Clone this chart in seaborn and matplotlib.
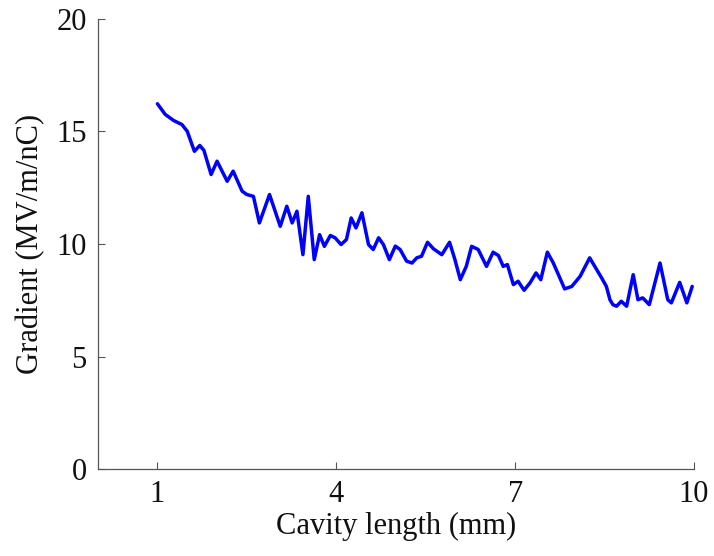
import matplotlib
matplotlib.use("Agg")
import matplotlib.pyplot as plt
import seaborn as sns
import pandas as pd

length_mm = [1.00, 1.13, 1.27, 1.41, 1.50, 1.62, 1.71, 1.78, 1.90, 2.00,
             2.17, 2.27, 2.42, 2.50, 2.61, 2.71, 2.88, 3.06, 3.17, 3.26,
             3.34, 3.44, 3.53, 3.63, 3.72, 3.80, 3.90, 3.98, 4.08, 4.17,
             4.25, 4.33, 4.43, 4.54, 4.62, 4.71, 4.79, 4.89, 4.99, 5.07,
             5.18, 5.27, 5.35, 5.43, 5.53, 5.63, 5.77, 5.90, 5.99, 6.08,
             6.18, 6.27, 6.38, 6.52, 6.63, 6.72, 6.80, 6.87, 6.97, 7.05,
             7.15, 7.25, 7.35, 7.43, 7.54, 7.64, 7.83, 7.95, 8.09, 8.25,
             8.45, 8.53, 8.59, 8.64, 8.70, 8.78, 8.87, 8.98, 9.06, 9.14,
             9.25, 9.43, 9.56, 9.62, 9.76, 9.88, 9.97]
gradient = [16.23, 15.76, 15.49, 15.31, 15.01, 14.12, 14.38, 14.16, 13.09, 13.68,
            12.79, 13.24, 12.35, 12.20, 12.12, 10.94, 12.20, 10.79, 11.68, 10.94,
            11.46, 9.53, 12.12, 9.31, 10.42, 9.90, 10.38, 10.28, 9.98, 10.20,
            11.16, 10.72, 11.39, 9.98, 9.76, 10.28, 9.98, 9.31, 9.91, 9.76,
            9.24, 9.16, 9.39, 9.46, 10.08, 9.79, 9.53, 10.08, 9.31, 8.42,
            9.01, 9.90, 9.76, 9.01, 9.64, 9.49, 9.01, 9.09, 8.20, 8.35,
            7.95, 8.28, 8.72, 8.42, 9.64, 9.16, 8.01, 8.12, 8.57, 9.39,
            8.50, 8.12, 7.53, 7.31, 7.24, 7.46, 7.24, 8.64, 7.53, 7.61,
            7.31, 9.16, 7.53, 7.39, 8.30, 7.39, 8.12]
x_ticks = [1, 4, 7, 10]
y_ticks = [0, 5, 10, 15, 20]

df = pd.DataFrame({"length": length_mm, "gradient": gradient})

sns.set_style("white")
plt.rcParams["font.family"] = ["Liberation Serif", "DejaVu Serif"]

fig = plt.figure(figsize=(7.14, 5.56), dpi=100)
ax = fig.add_axes([0.137, 0.156, 0.835, 0.810])

sns.lineplot(data=df, x="length", y="gradient", ax=ax, color="#0000ff",
             linewidth=2.5, estimator=None, sort=False)

ax.set_xlim(0, 10)
ax.set_ylim(0, 20)
ax.set_xticks(x_ticks)
ax.set_yticks(y_ticks)
ax.set_xticklabels([str(v) for v in x_ticks])
ax.set_yticklabels([str(v) for v in y_ticks])
ax.tick_params(bottom=True, left=True, direction="in", length=5, width=0.8,
               labelsize=22, colors="#111111", pad=8)
ax.tick_params(color="#555555")
for s in ["top", "right"]:
    ax.spines[s].set_visible(False)
for s in ["left", "bottom"]:
    ax.spines[s].set_color("#555555")
    ax.spines[s].set_linewidth(0.9)

ax.set_xlabel("Cavity length (mm)", fontsize=22, color="#111111", labelpad=2)
ax.set_ylabel("Gradient (MV/m/nC)", fontsize=22, color="#111111", labelpad=8)

fig.savefig("out.png", dpi=100)
